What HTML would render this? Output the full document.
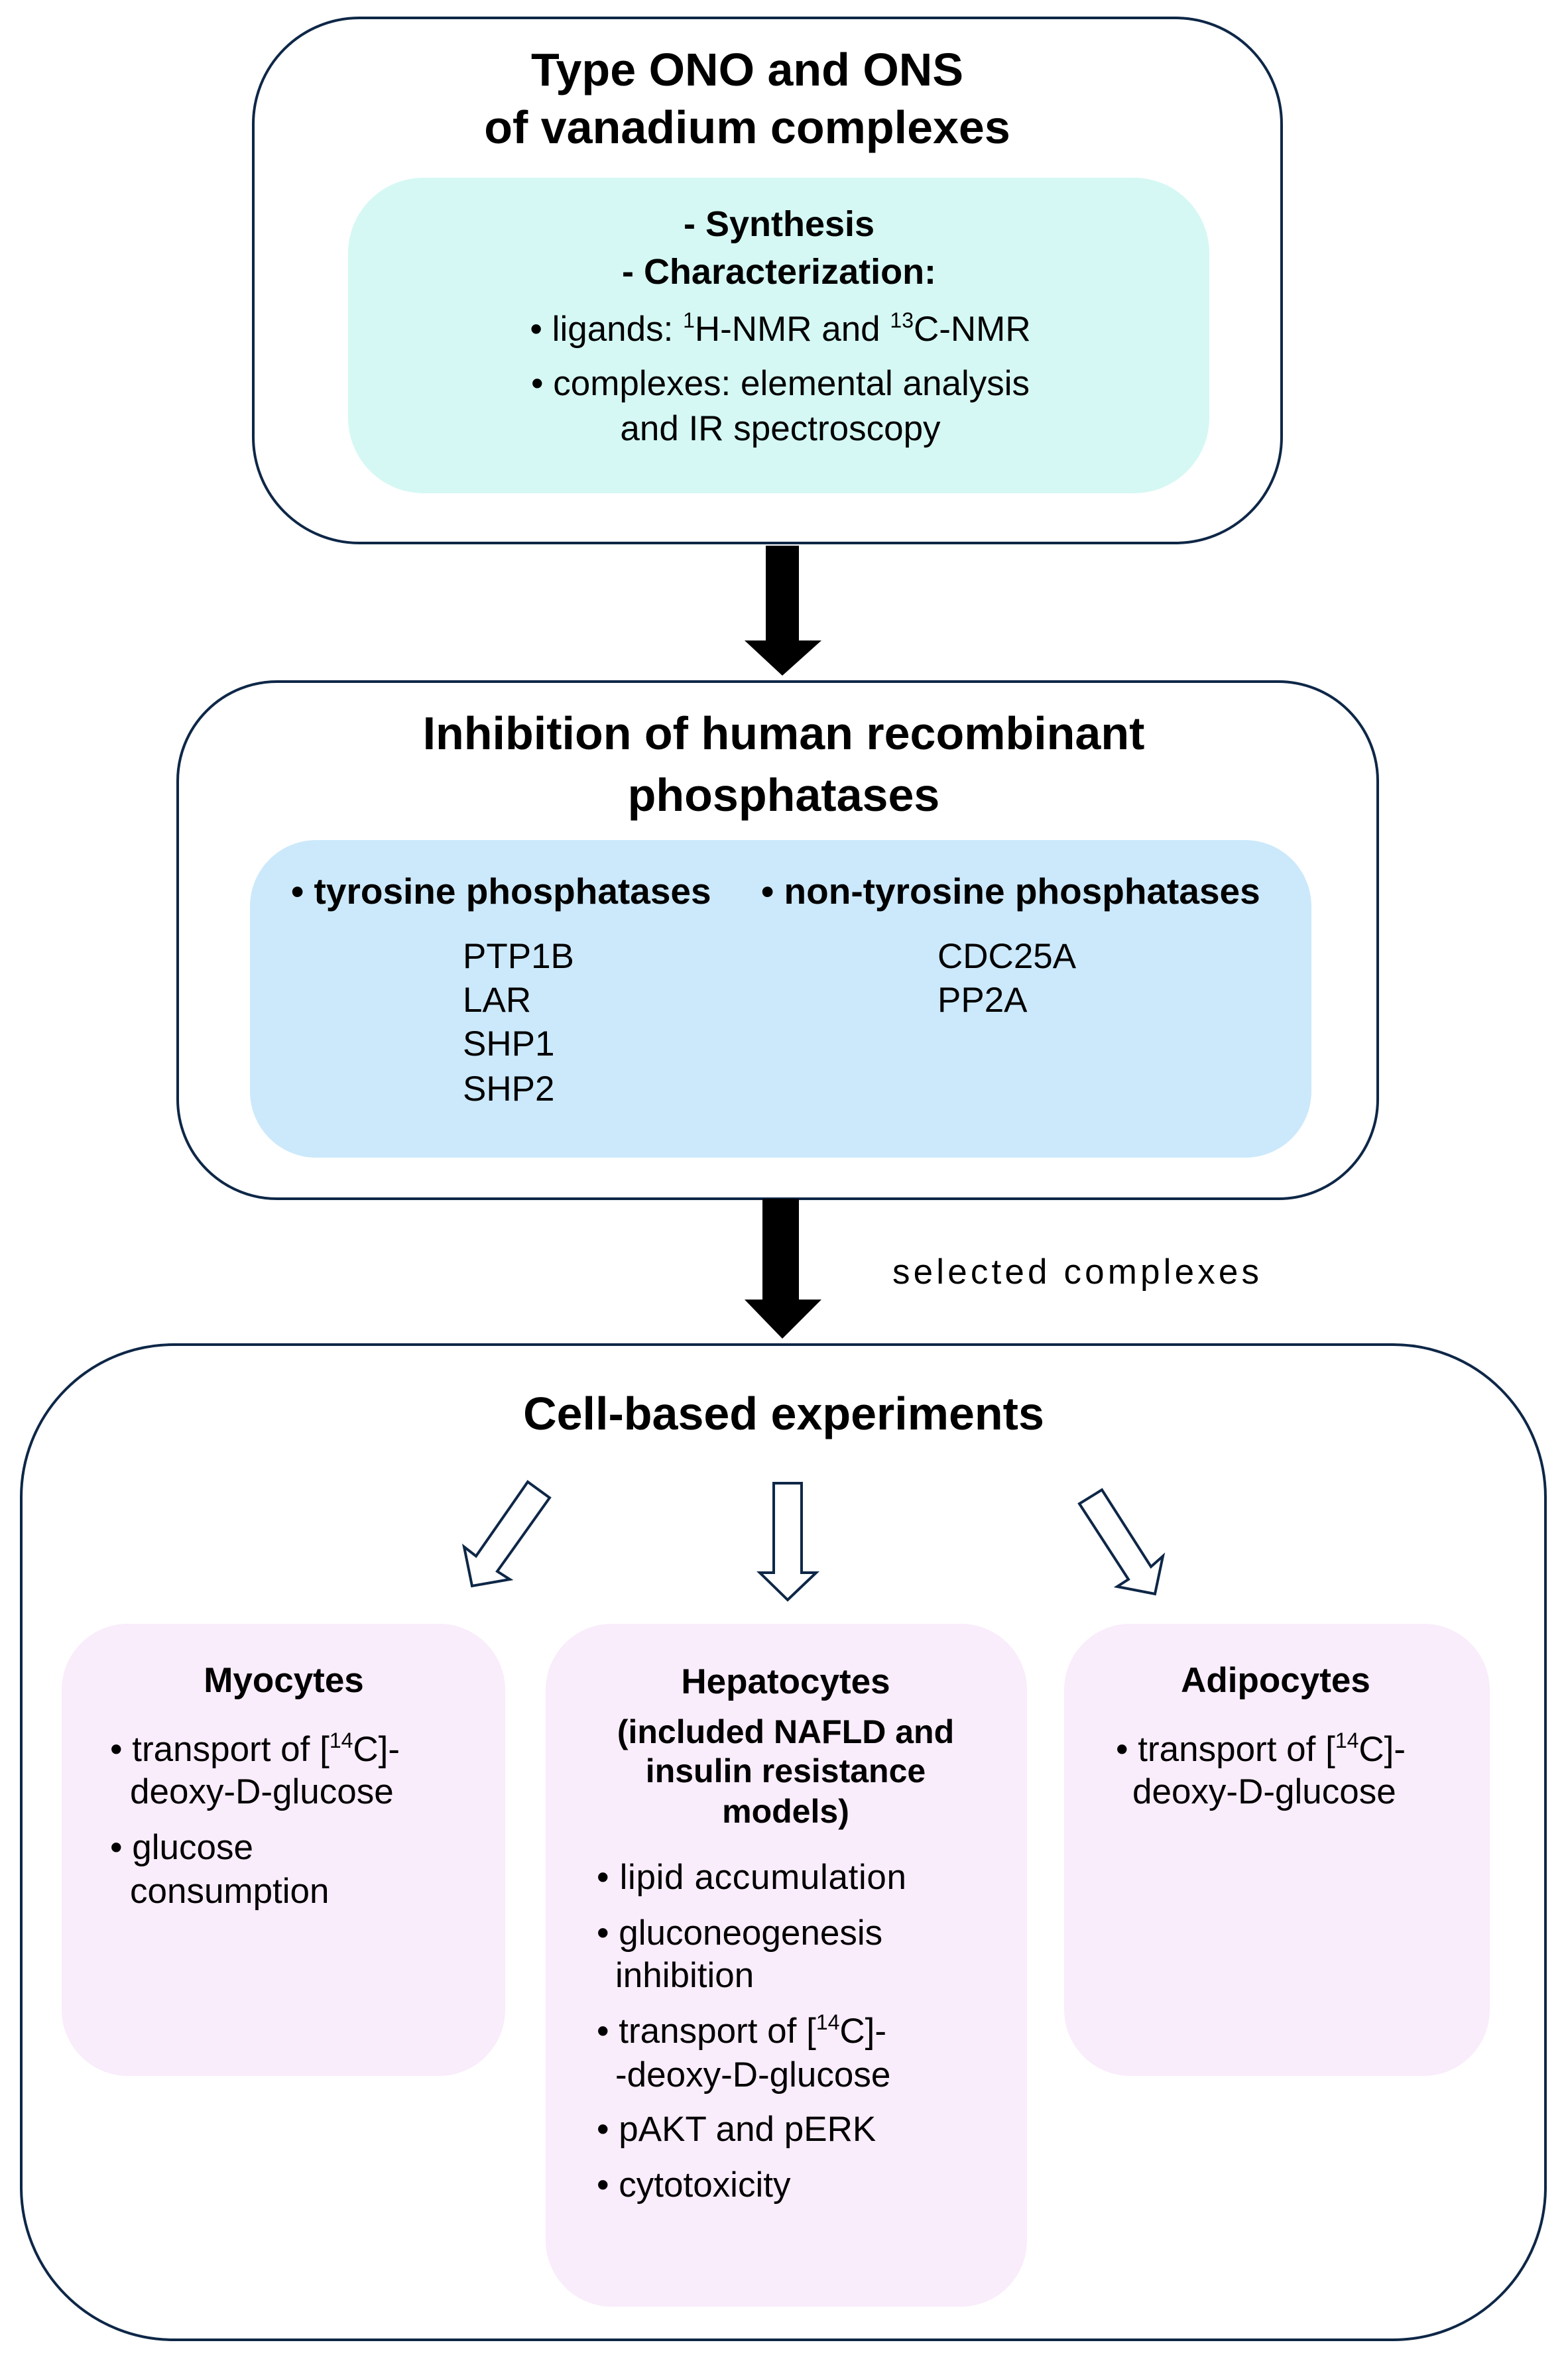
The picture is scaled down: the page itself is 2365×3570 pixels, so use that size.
<!DOCTYPE html>
<html><head><meta charset="utf-8"><style>
html,body{margin:0;padding:0;background:#fff}
svg{display:block}
text{font-family:"Liberation Sans",Arial,sans-serif;fill:#000}
.b{font-weight:bold}
</style></head><body>
<svg width="2365" height="3570" viewBox="0 0 2365 3570" xmlns="http://www.w3.org/2000/svg">
<g fill="none" stroke="#0e2747" stroke-width="4">
<rect x="382" y="27" width="1551" height="792" rx="160"/>
<rect x="268" y="1028" width="1810" height="780" rx="150"/>
<rect x="32" y="2028" width="2299" height="1501" rx="230"/>
</g>
<rect x="525" y="268" width="1299" height="476" rx="114" fill="#d5f8f4"/>
<rect x="377" y="1267" width="1601" height="479" rx="100" fill="#cce9fb"/>
<rect x="93" y="2449" width="669" height="682" rx="100" fill="#f9ecfb"/>
<rect x="823" y="2449" width="726" height="1030" rx="100" fill="#f9ecfb"/>
<rect x="1605" y="2449" width="642" height="682" rx="100" fill="#f9ecfb"/>
<polygon points="1155,823 1205,823 1205,966 1239,966 1180,1019 1123,966 1155,966" fill="#000"/>
<polygon points="1150,1808 1205,1808 1205,1960 1239,1960 1180,2019 1123,1960 1150,1960" fill="#000"/>
<g fill="#fff" stroke="#0e2747" stroke-width="4" stroke-linejoin="miter">
<polygon points="796,2235 829,2259 750,2370 769,2382 712,2392 700,2333 718,2347"/>
<polygon points="1167,2237 1209,2237 1209,2372 1231,2372 1188,2413 1146,2372 1167,2372"/>
<polygon points="1662,2247 1628,2268 1702,2382 1685,2393 1742,2404 1754,2347 1736,2363"/>
</g>
<g text-anchor="middle">
<text class="b" x="1127" y="129" font-size="70">Type ONO and ONS</text>
<text class="b" x="1127" y="216" font-size="70">of vanadium complexes</text>
<text class="b" x="1175" y="356" font-size="54">- Synthesis</text>
<text class="b" x="1175" y="428" font-size="54">- Characterization:</text>
<text x="1177" y="514" font-size="53">• ligands: <tspan font-size="32" dy="-20">1</tspan><tspan dy="20">H-NMR and </tspan><tspan font-size="32" dy="-20">13</tspan><tspan dy="20">C-NMR</tspan></text>
<text x="1177" y="596" font-size="53">• complexes: elemental analysis</text>
<text x="1177" y="664" font-size="53">and IR spectroscopy</text>
<text class="b" x="1182" y="1130" font-size="70">Inhibition of human recombinant</text>
<text class="b" x="1182" y="1223" font-size="70">phosphatases</text>
<text class="b" x="1182" y="2156" font-size="70">Cell-based experiments</text>
<text class="b" x="428" y="2552" font-size="53">Myocytes</text>
<text class="b" x="1185" y="2554" font-size="53">Hepatocytes</text>
<text class="b" x="1185" y="2629" font-size="50">(included NAFLD and</text>
<text class="b" x="1185" y="2688" font-size="50">insulin resistance</text>
<text class="b" x="1185" y="2749" font-size="50">models)</text>
<text class="b" x="1924" y="2552" font-size="53">Adipocytes</text>
</g>
<text class="b" x="439" y="1363" font-size="55">• tyrosine phosphatases</text>
<text class="b" x="1148" y="1363" font-size="55">• non-tyrosine phosphatases</text>
<g font-size="53">
<text x="698" y="1460">PTP1B</text>
<text x="698" y="1526">LAR</text>
<text x="698" y="1592">SHP1</text>
<text x="698" y="1660">SHP2</text>
<text x="1414" y="1460">CDC25A</text>
<text x="1414" y="1526">PP2A</text>
<text x="1346" y="1936" textLength="553">selected complexes</text>
<text x="166" y="2656">• transport of [<tspan font-size="32" dy="-20">14</tspan><tspan dy="20">C]-</tspan></text>
<text x="196" y="2720">deoxy-D-glucose</text>
<text x="166" y="2804">• glucose</text>
<text x="196" y="2870">consumption</text>
<text x="900" y="2849" textLength="467">• lipid accumulation</text>
<text x="900" y="2933">• gluconeogenesis</text>
<text x="928" y="2997">inhibition</text>
<text x="900" y="3081">• transport of [<tspan font-size="32" dy="-20">14</tspan><tspan dy="20">C]-</tspan></text>
<text x="928" y="3147">-deoxy-D-glucose</text>
<text x="900" y="3229">• pAKT and pERK</text>
<text x="900" y="3313">• cytotoxicity</text>
<text x="1683" y="2656">• transport of  [<tspan font-size="32" dy="-20">14</tspan><tspan dy="20">C]-</tspan></text>
<text x="1708" y="2720">deoxy-D-glucose</text>
</g>
</svg>
</body></html>
